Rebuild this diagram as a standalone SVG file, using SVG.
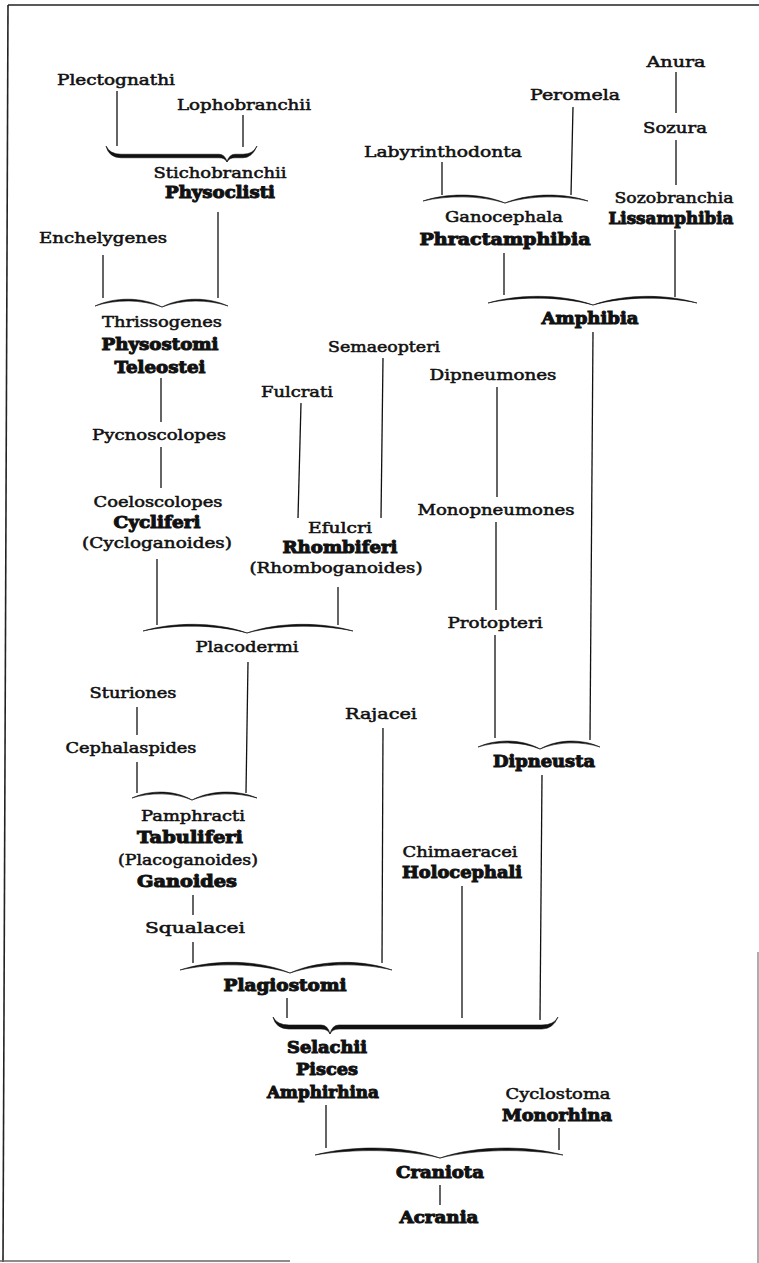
<svg xmlns="http://www.w3.org/2000/svg" width="759" height="1263" viewBox="0 0 759 1263">
<style>
text{text-anchor:middle;fill:#111;font-family:"DejaVu Serif",serif}
.t{font-size:15.5px;stroke:#111;stroke-width:0.55}
.b{font-size:16.5px;font-weight:bold;stroke:#111;stroke-width:1}
.l{stroke:#111;stroke-width:1.3;fill:none}
.br{fill:#111;stroke:#111;stroke-width:0.6}
.frame{stroke:#222;stroke-width:1.6;fill:none}
</style>
<rect width="759" height="1263" fill="#fff"/>
<g id="frame">
<line class="frame" x1="8" y1="5" x2="759" y2="5"/>
<line class="frame" x1="8" y1="5" x2="3" y2="1262"/>
<line x1="0" y1="1261" x2="290" y2="1261" stroke="#666" stroke-width="1.3"/>
<line x1="758" y1="952" x2="758" y2="1263" stroke="#777" stroke-width="1.2"/>
</g>
<g id="connectors">
<line class="l" x1="117" y1="91" x2="117" y2="146"/>
<line class="l" x1="243" y1="115" x2="243" y2="147"/>
<line class="l" x1="218" y1="212" x2="218" y2="298"/>
<line class="l" x1="103" y1="255" x2="103" y2="298"/>
<line class="l" x1="161" y1="378" x2="161" y2="422"/>
<line class="l" x1="161" y1="447" x2="161" y2="488"/>
<line class="l" x1="157" y1="559" x2="157" y2="625"/>
<line class="l" x1="301" y1="403" x2="298" y2="518"/>
<line class="l" x1="383" y1="358" x2="381" y2="518"/>
<line class="l" x1="338" y1="587" x2="338" y2="625"/>
<line class="l" x1="248" y1="662" x2="246" y2="793"/>
<line class="l" x1="137" y1="707" x2="137" y2="735"/>
<line class="l" x1="137" y1="762" x2="137" y2="793"/>
<line class="l" x1="193" y1="895" x2="193" y2="915"/>
<line class="l" x1="193" y1="942" x2="193" y2="963"/>
<line class="l" x1="383" y1="728" x2="382" y2="963"/>
<line class="l" x1="287" y1="998" x2="287" y2="1018"/>
<line class="l" x1="326" y1="1105" x2="326" y2="1148"/>
<line class="l" x1="559" y1="1128" x2="559" y2="1150"/>
<line class="l" x1="440" y1="1185" x2="440" y2="1205"/>
<line class="l" x1="676" y1="72" x2="676" y2="113"/>
<line class="l" x1="676" y1="140" x2="676" y2="185"/>
<line class="l" x1="675" y1="230" x2="675" y2="297"/>
<line class="l" x1="573" y1="107" x2="571" y2="195"/>
<line class="l" x1="442" y1="162" x2="442" y2="195"/>
<line class="l" x1="504" y1="253" x2="504" y2="295"/>
<line class="l" x1="593" y1="332" x2="590" y2="740"/>
<line class="l" x1="497" y1="387" x2="497" y2="497"/>
<line class="l" x1="496" y1="522" x2="496" y2="610"/>
<line class="l" x1="495" y1="635" x2="495" y2="738"/>
<line class="l" x1="542" y1="775" x2="540" y2="1020"/>
<line class="l" x1="462" y1="886" x2="462" y2="1018"/>
<!-- braces -->
<path class="br" d="M106,146 Q110,154.25 121,154.25 L219,154.25 Q225,154.25 227,162 Q229,154.25 235,154.25 L243,154.25 Q253,154.25 257,146 Q252,157.75 243,157.75 L235,157.75 Q229,157.75 227,162 Q225,157.75 219,157.75 L121,157.75 Q109,157.75 106,146 Z"/>
<path class="br" d="M95,306 C115,296.8 142,296.8 162,307 C182,296.8 208,296.8 228,306 C208,299.2 182,299.2 162,307 C142,299.2 115,299.2 95,306 Z"/>
<path class="br" d="M143,631 C174,621.8 216,621.8 247,633 C279,621.8 321,621.8 353,631 C321,624.2 279,624.2 247,633 C216,624.2 174,624.2 143,631 Z"/>
<path class="br" d="M132,798 C150,789.8 174,789.8 192,800 C211.5,789.8 237.5,789.8 257,798 C237.5,792.2 211.5,792.2 192,800 C174,792.2 150,792.2 132,798 Z"/>
<path class="br" d="M423,201 C447.6,192.8 480.4,192.8 505,203 C529.9,192.8 563.1,192.8 588,201 C563.1,195.2 529.9,195.2 505,203 C480.4,195.2 447.6,195.2 423,201 Z"/>
<path class="br" d="M488,303 C519.5,293.8 561.5,293.8 593,305 C624.2,293.8 665.8,293.8 697,303 C665.8,296.2 624.2,296.2 593,305 C561.5,296.2 519.5,296.2 488,303 Z"/>
<path class="br" d="M478,747 C496.6,738.8 521.4,738.8 540,749 C558,738.8 582,738.8 600,747 C582,741.2 558,741.2 540,749 C521.4,741.2 496.6,741.2 478,747 Z"/>
<path class="br" d="M180,970 C213,959.3 257,959.3 290,973 C320.6,959.3 361.4,959.3 392,970 C361.4,962.7 320.6,962.7 290,973 C257,962.7 213,962.7 180,970 Z"/>
<path class="br" d="M273,1017 Q277,1025 289,1025 L321,1025 Q328,1025 330,1034 Q332,1025 339,1025 L542,1025 Q554,1025 558,1017 Q553,1029 542,1029 L339,1029 Q332,1029 330,1034 Q328,1029 321,1029 L289,1029 Q276,1029 273,1017 Z"/>
<path class="br" d="M315,1155 C352.5,1145.3 402.5,1145.3 440,1158 C476.9,1145.3 526.1,1145.3 563,1155 C526.1,1148.7 476.9,1148.7 440,1158 C402.5,1148.7 352.5,1148.7 315,1155 Z"/>
</g>
<g id="n-plectognathi"><text class="t" x="116" y="85" textLength="118" lengthAdjust="spacingAndGlyphs">Plectognathi</text></g>
<g id="n-lophobranchii"><text class="t" x="244" y="110" textLength="134" lengthAdjust="spacingAndGlyphs">Lophobranchii</text></g>
<g id="n-physoclisti"><text class="t" x="220" y="178" textLength="133" lengthAdjust="spacingAndGlyphs">Stichobranchii</text><text class="b" x="220" y="198" textLength="110" lengthAdjust="spacingAndGlyphs">Physoclisti</text></g>
<g id="n-enchelygenes"><text class="t" x="103" y="243" textLength="128" lengthAdjust="spacingAndGlyphs">Enchelygenes</text></g>
<g id="n-teleostei"><text class="t" x="162" y="327" textLength="120" lengthAdjust="spacingAndGlyphs">Thrissogenes</text><text class="b" x="160" y="350" textLength="117" lengthAdjust="spacingAndGlyphs">Physostomi</text><text class="b" x="160" y="373" textLength="91" lengthAdjust="spacingAndGlyphs">Teleostei</text></g>
<g id="n-pycnoscolopes"><text class="t" x="159" y="440" textLength="134" lengthAdjust="spacingAndGlyphs">Pycnoscolopes</text></g>
<g id="n-cycliferi"><text class="t" x="158" y="507" textLength="129" lengthAdjust="spacingAndGlyphs">Coeloscolopes</text><text class="b" x="157" y="528" textLength="87" lengthAdjust="spacingAndGlyphs">Cycliferi</text><text class="t" x="157" y="548" textLength="150" lengthAdjust="spacingAndGlyphs">(Cycloganoides)</text></g>
<g id="n-fulcrati"><text class="t" x="297" y="397" textLength="72" lengthAdjust="spacingAndGlyphs">Fulcrati</text></g>
<g id="n-semaeopteri"><text class="t" x="384" y="352" textLength="112" lengthAdjust="spacingAndGlyphs">Semaeopteri</text></g>
<g id="n-rhombiferi"><text class="t" x="340" y="533" textLength="64" lengthAdjust="spacingAndGlyphs">Efulcri</text><text class="b" x="340" y="553" textLength="115" lengthAdjust="spacingAndGlyphs">Rhombiferi</text><text class="t" x="336" y="573" textLength="173" lengthAdjust="spacingAndGlyphs">(Rhomboganoides)</text></g>
<g id="n-placodermi"><text class="t" x="247" y="652" textLength="103" lengthAdjust="spacingAndGlyphs">Placodermi</text></g>
<g id="n-sturiones"><text class="t" x="133" y="698" textLength="87" lengthAdjust="spacingAndGlyphs">Sturiones</text></g>
<g id="n-cephalaspides"><text class="t" x="131" y="753" textLength="131" lengthAdjust="spacingAndGlyphs">Cephalaspides</text></g>
<g id="n-ganoides"><text class="t" x="193" y="821" textLength="104" lengthAdjust="spacingAndGlyphs">Pamphracti</text><text class="b" x="190" y="843" textLength="106" lengthAdjust="spacingAndGlyphs">Tabuliferi</text><text class="t" x="188" y="865" textLength="140" lengthAdjust="spacingAndGlyphs">(Placoganoides)</text><text class="b" x="187" y="887" textLength="100" lengthAdjust="spacingAndGlyphs">Ganoides</text></g>
<g id="n-squalacei"><text class="t" x="195" y="933" textLength="100" lengthAdjust="spacingAndGlyphs">Squalacei</text></g>
<g id="n-rajacei"><text class="t" x="381" y="719" textLength="72" lengthAdjust="spacingAndGlyphs">Rajacei</text></g>
<g id="n-plagiostomi"><text class="b" x="285" y="991" textLength="123" lengthAdjust="spacingAndGlyphs">Plagiostomi</text></g>
<g id="n-holocephali"><text class="t" x="460" y="857" textLength="115" lengthAdjust="spacingAndGlyphs">Chimaeracei</text><text class="b" x="462" y="878" textLength="120" lengthAdjust="spacingAndGlyphs">Holocephali</text></g>
<g id="n-amphirhina"><text class="b" x="327" y="1053" textLength="80" lengthAdjust="spacingAndGlyphs">Selachii</text><text class="b" x="327" y="1075" textLength="62" lengthAdjust="spacingAndGlyphs">Pisces</text><text class="b" x="323" y="1098" textLength="112" lengthAdjust="spacingAndGlyphs">Amphirhina</text></g>
<g id="n-monorhina"><text class="t" x="558" y="1099" textLength="105" lengthAdjust="spacingAndGlyphs">Cyclostoma</text><text class="b" x="557" y="1121" textLength="110" lengthAdjust="spacingAndGlyphs">Monorhina</text></g>
<g id="n-craniota"><text class="b" x="440" y="1178" textLength="88" lengthAdjust="spacingAndGlyphs">Craniota</text></g>
<g id="n-acrania"><text class="b" x="439" y="1223" textLength="79" lengthAdjust="spacingAndGlyphs">Acrania</text></g>
<g id="n-anura"><text class="t" x="676" y="67" textLength="59" lengthAdjust="spacingAndGlyphs">Anura</text></g>
<g id="n-sozura"><text class="t" x="675" y="133" textLength="64" lengthAdjust="spacingAndGlyphs">Sozura</text></g>
<g id="n-lissamphibia"><text class="t" x="674" y="203" textLength="119" lengthAdjust="spacingAndGlyphs">Sozobranchia</text><text class="b" x="671" y="224" textLength="125" lengthAdjust="spacingAndGlyphs">Lissamphibia</text></g>
<g id="n-peromela"><text class="t" x="575" y="100" textLength="90" lengthAdjust="spacingAndGlyphs">Peromela</text></g>
<g id="n-labyrinthodonta"><text class="t" x="443" y="157" textLength="158" lengthAdjust="spacingAndGlyphs">Labyrinthodonta</text></g>
<g id="n-phractamphibia"><text class="t" x="504" y="222" textLength="118" lengthAdjust="spacingAndGlyphs">Ganocephala</text><text class="b" x="505" y="245" textLength="171" lengthAdjust="spacingAndGlyphs">Phractamphibia</text></g>
<g id="n-amphibia"><text class="b" x="590" y="324" textLength="97" lengthAdjust="spacingAndGlyphs">Amphibia</text></g>
<g id="n-dipneumones"><text class="t" x="493" y="380" textLength="127" lengthAdjust="spacingAndGlyphs">Dipneumones</text></g>
<g id="n-monopneumones"><text class="t" x="496" y="515" textLength="157" lengthAdjust="spacingAndGlyphs">Monopneumones</text></g>
<g id="n-protopteri"><text class="t" x="495" y="628" textLength="95" lengthAdjust="spacingAndGlyphs">Protopteri</text></g>
<g id="n-dipneusta"><text class="b" x="544" y="767" textLength="102" lengthAdjust="spacingAndGlyphs">Dipneusta</text></g>
</svg>
